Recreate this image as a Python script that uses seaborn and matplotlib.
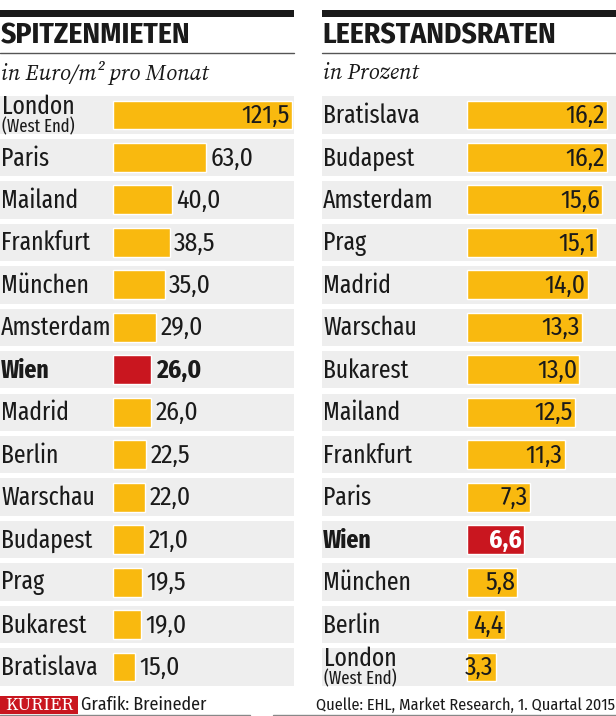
import matplotlib
matplotlib.use("Agg")
import matplotlib.pyplot as plt
import seaborn as sns
from matplotlib.patches import Rectangle
from matplotlib.transforms import blended_transform_factory

# Daten
miet_staedte = ["London", "Paris", "Mailand", "Frankfurt", "München", "Amsterdam", "Wien",
                "Madrid", "Berlin", "Warschau", "Budapest", "Prag", "Bukarest", "Bratislava"]
miet_werte = [121.5, 63.0, 40.0, 38.5, 35.0, 29.0, 26.0, 26.0, 22.5, 22.0, 21.0, 19.5, 19.0, 15.0]

leer_staedte = ["Bratislava", "Budapest", "Amsterdam", "Prag", "Madrid", "Warschau", "Bukarest",
                "Mailand", "Frankfurt", "Paris", "Wien", "München", "Berlin", "London"]
leer_werte = [16.2, 16.2, 15.6, 15.1, 14.0, 13.3, 13.0, 12.5, 11.3, 7.3, 6.6, 5.8, 4.4, 3.3]

GELB = "#F9B90F"
ROT = "#C9161F"
GRAU = "#EEEEEE"
TEXT = "#1a1a1a"
SERIF = ["Source Serif 4", "DejaVu Serif"]
SCHMAL = ["Fira Sans Extra Condensed", "Fira Sans Condensed", "DejaVu Sans"]

sns.set_theme(style="white")
plt.rcParams["font.family"] = ["Fira Sans Condensed", "DejaVu Sans"]

W, H = 616, 716
fig = plt.figure(figsize=(W / 100, H / 100), dpi=100)


def px_axes(x0, x1, y0, y1):
    return fig.add_axes([x0 / W, 1 - y1 / H, (x1 - x0) / W, (y1 - y0) / H])


def fmt(v):
    return f"{v:.1f}".replace(".", ",")


def panel(x0, x1, bar_start, xmax_val, bar_end_px, staedte, werte, inside_all):
    ax = px_axes(x0, x1, 93.75, 688.25)
    scale = (bar_end_px - bar_start) / xmax_val
    ax.set_xlim(-(bar_start - x0) / scale, (x1 - bar_start) / scale)
    farben = [ROT if s == "Wien" else GELB for s in staedte]
    for i in range(len(staedte)):
        ax.axhspan(i - 0.44, i + 0.44, color=GRAU, zorder=0, lw=0)
    sns.barplot(x=werte, y=staedte, hue=staedte, palette=farben, order=staedte,
                hue_order=staedte, orient="h", width=0.68, legend=False,
                saturation=1, ax=ax, zorder=2)
    trans = blended_transform_factory(ax.transAxes, ax.transData)
    one_px = 1 / scale
    lx = 1 / (x1 - x0)
    for i, (s, v) in enumerate(zip(staedte, werte)):
        bold = "bold" if s == "Wien" else "normal"
        if s == "London":
            ax.text(lx + 1 / (x1 - x0), i - 0.19, "London", transform=trans, ha="left",
                    va="center", fontsize=18.5, family=SCHMAL, color=TEXT)
            ax.text(lx + 1 / (x1 - x0), i + 0.29, "(West End)", transform=trans, ha="left",
                    va="center", fontsize=13, family=SCHMAL, color=TEXT)
        else:
            ax.text(lx, i + 0.02, s, transform=trans, ha="left", va="center",
                    fontsize=18.5, fontweight=bold, family=SCHMAL, color=TEXT)
        if inside_all or s == "London":
            col = "white" if s == "Wien" else TEXT
            ax.text(v - 2 * one_px, i + 0.02, fmt(v), ha="right", va="center",
                    fontsize=18.5, fontweight=bold, color=col, zorder=3)
        else:
            ax.text(v + 4.5 * one_px, i + 0.02, fmt(v), ha="left", va="center",
                    fontsize=18.5, fontweight=bold, color=TEXT, zorder=3)
    ax.set_ylim(len(staedte) - 0.5, -0.5)
    ax.set_axis_off()
    return ax


panel(0, 294, 113, 121.5, 292, miet_staedte, miet_werte, False)
panel(322, 616, 467, 16.2, 607, leer_staedte, leer_werte, True)

# Kopfzeilen
bg = fig.add_axes([0, 0, 1, 1], zorder=-1)
bg.set_xlim(0, W)
bg.set_ylim(H, 0)
bg.set_axis_off()
for xa, xb, titel, unter in [(0, 294, "SPITZENMIETEN", "in Euro/m² pro Monat"),
                             (322, 616, "LEERSTANDSRATEN", "in Prozent")]:
    bg.add_patch(Rectangle((xa, 10), xb - xa, 7, color=TEXT, lw=0))
    bg.plot([xa, xb], [52.5, 52.5], color="#555555", lw=1)
    bg.text(xa + 0.5, 36, titel, ha="left", va="center", fontsize=21.3, fontweight="bold",
            color=TEXT)
    bg.text(xa + 1, 73, unter, ha="left", va="center", fontsize=16, fontstyle="italic",
            family=SERIF, color=TEXT)

# Fußzeile
bg.add_patch(Rectangle((0, 696), 78, 18, color=ROT, lw=0))
bg.text(39, 705.5, "KURIER", ha="center", va="center", fontsize=13.5, fontweight="bold",
        color="white", family=SERIF)
bg.text(81, 705, "Grafik: Breineder", ha="left", va="center", fontsize=13, color=TEXT)
bg.text(615, 705, "Quelle: EHL, Market Research, 1. Quartal 2015", ha="right", va="center",
        fontsize=11.7, color=TEXT)
bg.plot([0, 250], [715, 715], color="#888888", lw=1)
bg.plot([273, 616], [715, 715], color="#888888", lw=1)

fig.savefig("out.png", dpi=100)
